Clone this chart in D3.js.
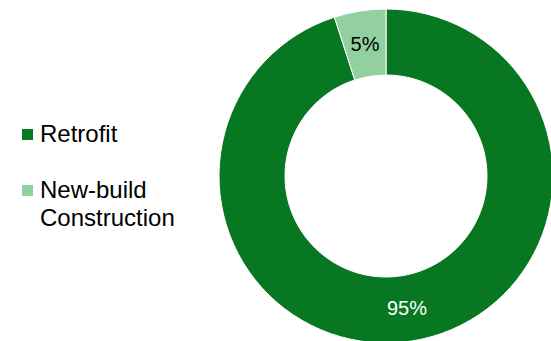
<!DOCTYPE html>
<html lang="en">
  <meta charset="UTF-8" />
  <title>Retrofit vs New-build</title>
  <style>
    body { margin: 0; background: #fff; }
    text { font-family: "Liberation Sans", Arial, sans-serif; }
  </style>
  <script src="https://d3js.org/d3.v7.min.js"></script>
  <body>
    <div id="chart"></div>
    <script>
      // data
      const categories = ["Retrofit", "New-build Construction"];
      const values = [95, 5];
      const labels = ["95%", "5%"];
      const legendLines = [["Retrofit"], ["New-build", "Construction"]];

      const width = 551, height = 341;
      const cx = 386, cy = 176;
      const outerR = 167, innerR = 101;

      const color = d3.scaleOrdinal().domain(categories).range(["#087722", "#92d09f"]);
      const labelColor = d3.scaleOrdinal().domain(categories).range(["#ffffff", "#000000"]);

      const svg = d3.select("#chart").append("svg")
        .attr("width", width).attr("height", height);

      const pie = d3.pie().sort(null).value((d, i) => values[i]);
      const arcs = pie(categories);
      const arc = d3.arc().innerRadius(innerR).outerRadius(outerR);

      const g = svg.append("g").attr("transform", "translate(" + cx + "," + cy + ")");
      g.selectAll("path").data(arcs).enter().append("path")
        .attr("d", arc)
        .attr("fill", (d) => color(d.data))
        .attr("stroke", "#fff")
        .attr("stroke-width", 1);

      g.selectAll("text").data(arcs).enter().append("text")
        .attr("transform", (d) => "translate(" + arc.centroid(d) + ")")
        .attr("text-anchor", "middle")
        .attr("dy", "0.35em")
        .style("font-size", "20px")
        .attr("fill", (d) => labelColor(d.data))
        .text((d, i) => labels[i]);

      // legend
      const legend = svg.append("g");
      const rows = [142, 198];
      categories.forEach((c, i) => {
        legend.append("rect")
          .attr("x", 22).attr("y", rows[i] - 13)
          .attr("width", 11).attr("height", 11)
          .attr("fill", color(c));
        legendLines[i].forEach((line, j) => {
          legend.append("text")
            .attr("x", 40).attr("y", rows[i] + j * 28)
            .style("font-size", "24px")
            .attr("fill", "#000")
            .text(line);
        });
      });
    </script>
  </body>
</html>
